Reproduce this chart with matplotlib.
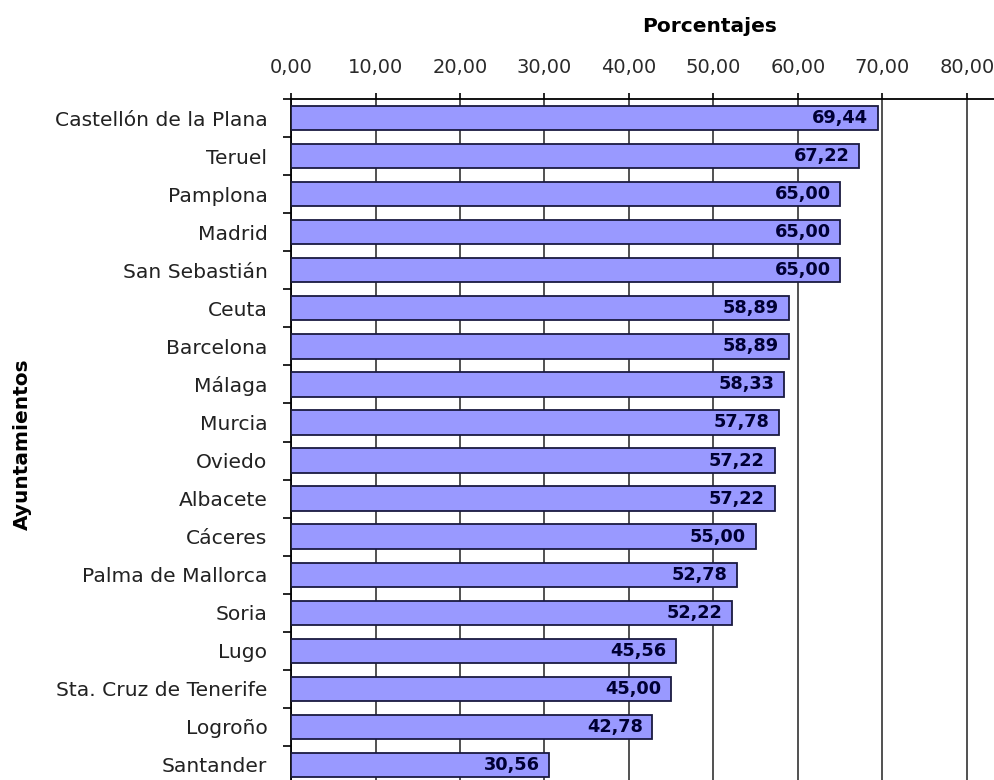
import matplotlib
matplotlib.use("Agg")

import numpy as np
import matplotlib.pyplot as plt
from matplotlib.ticker import FixedLocator, FuncFormatter

# datos
ayuntamientos = ["Castellón de la Plana", "Teruel", "Pamplona", "Madrid",
                 "San Sebastián", "Ceuta", "Barcelona", "Málaga", "Murcia",
                 "Oviedo", "Albacete", "Cáceres", "Palma de Mallorca", "Soria",
                 "Lugo", "Sta. Cruz de Tenerife", "Logroño", "Santander"]
porcentajes = [69.44, 67.22, 65.00, 65.00, 65.00, 58.89, 58.89, 58.33, 57.78,
               57.22, 57.22, 55.00, 52.78, 52.22, 45.56, 45.00, 42.78, 30.56]
xticks = [0, 10, 20, 30, 40, 50, 60, 70, 80]

fig = plt.figure(figsize=(9.95, 7.8), dpi=100)
ax = fig.add_axes([291/995, -4/780, 704/995, 685/780])

y = np.arange(len(ayuntamientos))
ax.barh(y, porcentajes, height=0.64, color="#9999ff", edgecolor="#1a1a40",
        linewidth=1.3, zorder=3)

for yi, v in zip(y, porcentajes):
    ax.annotate(f"{v:.2f}".replace(".", ","), xy=(v, yi), xytext=(-7, 0),
                textcoords="offset points", ha="right", va="center",
                fontsize=12.8, fontweight="bold", color="#000033", zorder=4)

ax.set_xlim(0, 704/8.45)
ax.set_ylim(len(ayuntamientos) - 0.5, -0.5)

# eje x arriba
ax.xaxis.tick_top()
ax.xaxis.set_major_locator(FixedLocator(xticks))
ax.xaxis.set_major_formatter(FuncFormatter(lambda v, p: f"{v:.2f}".replace(".", ",")))
ax.tick_params(axis="x", direction="out", length=4, width=1.2, pad=12,
               labelsize=14, labelcolor="#2a2a2a")
ax.grid(axis="x", color="#333333", linewidth=1.2, zorder=0)

# eje y
ax.set_yticks(y)
ax.set_yticklabels(ayuntamientos)
ax.yaxis.set_minor_locator(FixedLocator(np.arange(-0.5, len(ayuntamientos), 1)))
ax.tick_params(axis="y", which="major", length=0, pad=17, labelsize=14.6,
               labelcolor="#222222")
ax.tick_params(axis="y", which="minor", length=6, width=1.2, direction="out")

for s in ["right", "bottom"]:
    ax.spines[s].set_visible(False)
ax.spines["top"].set_linewidth(1.3)
ax.spines["left"].set_linewidth(1.3)

fig.text(710/995, 1 - 27/780, "Porcentajes", ha="center", va="center",
         fontsize=14.5, fontweight="bold")
fig.text(22/995, 1 - 444/780, "Ayuntamientos", ha="center", va="center",
         rotation=90, fontsize=14.5, fontweight="bold")

plt.savefig("out.png", dpi=100)
plt.close()
